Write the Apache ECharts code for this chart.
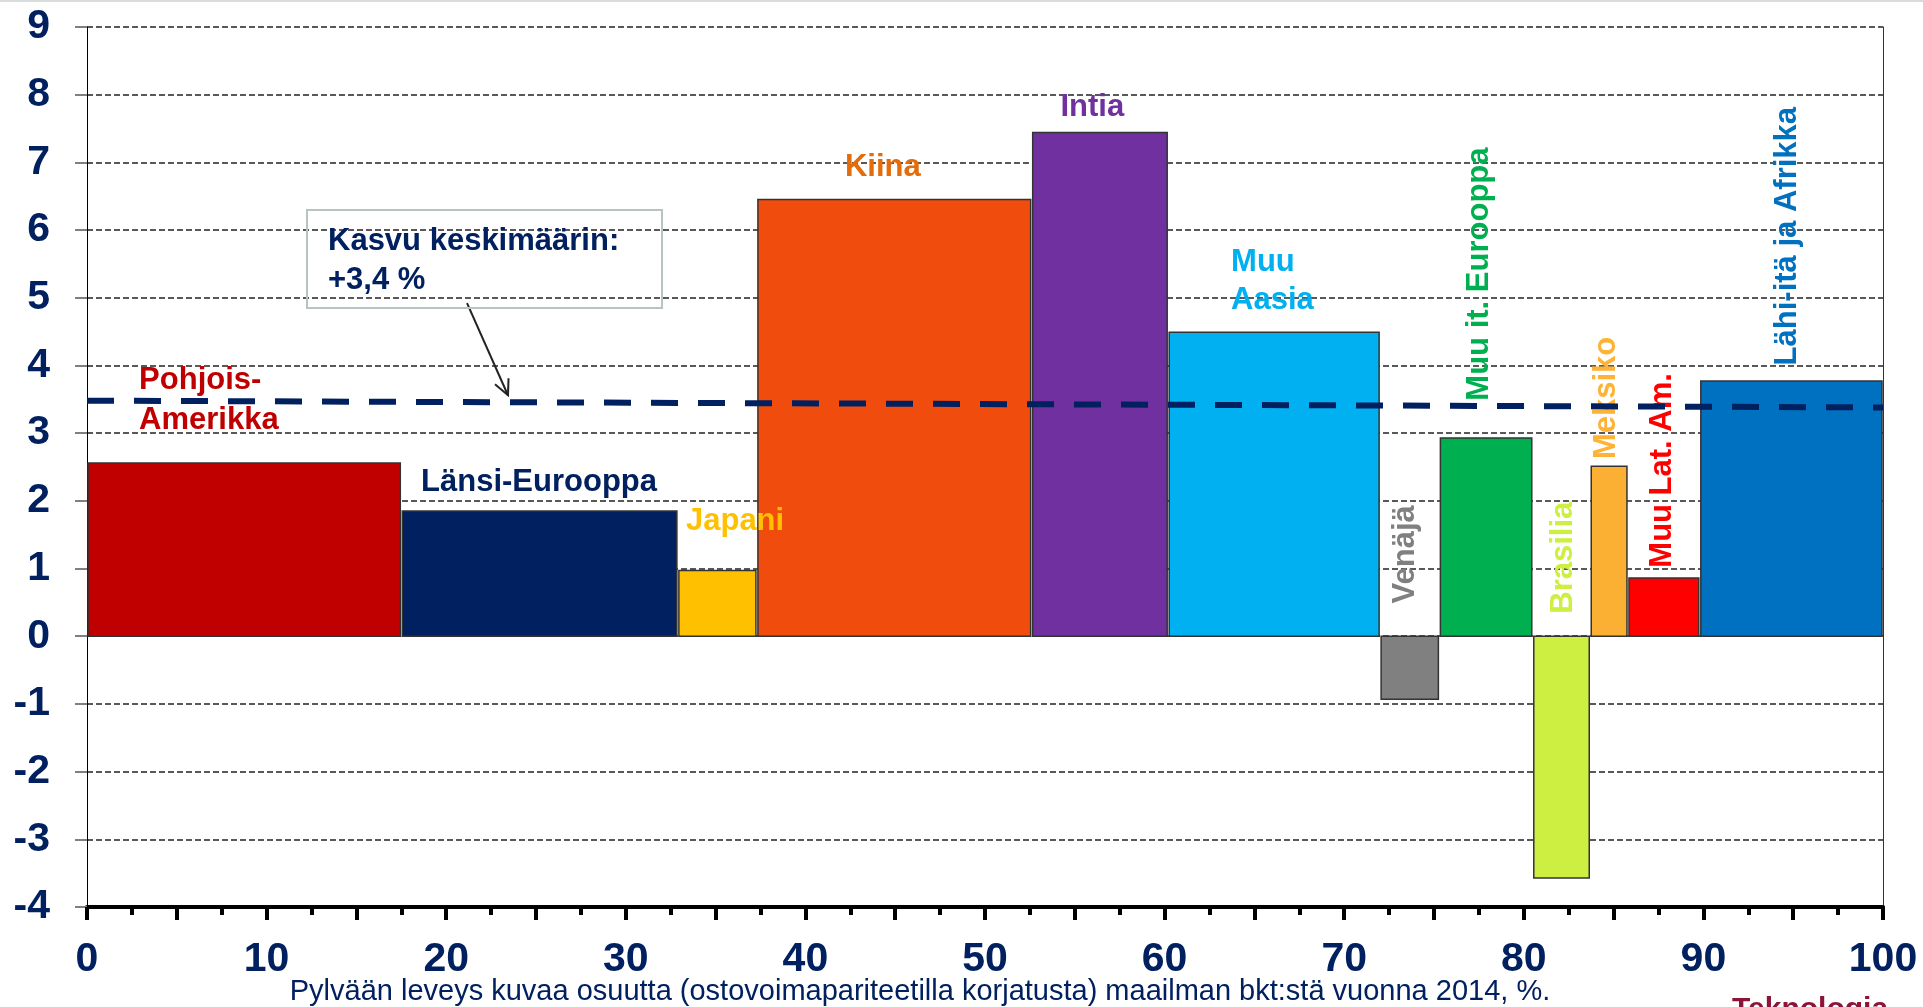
<!DOCTYPE html>
<html>
<head>
<meta charset="utf-8">
<script src="https://cdn.jsdelivr.net/npm/echarts@6/dist/echarts.min.js"></script>
<style>
html,body{margin:0;padding:0;background:#fff;}
#chart{width:1923px;height:1007px;}
</style>
</head>
<body>
<div id="chart"></div>
<script>
// ---- data ----
const regions = ['Pohjois-Amerikka','Länsi-Eurooppa','Japani','Kiina','Intia','Muu Aasia','Venäjä','Muu it. Eurooppa','Brasilia','Meksiko','Muu Lat. Am.','Lähi-itä ja Afrikka'];
// share of world GDP (PPP) 2014, % (bar widths)
const shares = [17.5, 15.4, 4.4, 15.3, 7.6, 11.8, 3.3, 5.2, 3.2, 2.1, 4.0, 10.2];
// growth, % (bar heights)
const growth = [2.56, 1.85, 0.97, 6.45, 7.44, 4.49, -0.93, 2.93, -3.57, 2.51, 0.86, 3.77];
// average growth line (as drawn)
const avgLine = [[0, 3.48], [100, 3.38]];
const labelText = ['Pohjois-\nAmerikka','Länsi-Eurooppa','Japani','Kiina','Intia','Muu\nAasia','Venäjä','Muu it. Eurooppa','Brasilia','Meksiko','Muu Lat. Am.','Lähi-itä ja Afrikka'];
const yTicks = [-4,-3,-2,-1,0,1,2,3,4,5,6,7,8,9];
const xTickLabels = [0,10,20,30,40,50,60,70,80,90,100];
const subtitle = 'Pylvään leveys kuvaa osuutta (ostovoimapariteetilla korjatusta) maailman bkt:stä vuonna 2014, %.';
const annotationText = ['Kasvu keskimäärin:', '+3,4 %'];

// ---- layout / style ----
const barColors = ['#C00000','#002060','#FFC000','#F04C0E','#7030A0','#00B0F0','#808080','#00B050','#CDEF41','#FBB034','#FF0000','#0070C0'];
const labelColors = ['#C00000','#002060','#FFC000','#E46C0A','#7030A0','#00B0F0','#808080','#00B050','#CDEF41','#FFB233','#FF0000','#0070C0'];
// label anchor in data coordinates, rotated flag
const labelPos = [[2.9,3.49],[18.6,2.27],[33.35,1.70],[42.2,6.93],[54.2,7.81],[63.7,5.24],[73.4,1.21],[77.55,5.35],[82.2,1.16],[84.6,3.52],[87.7,2.45],[94.7,5.91]];
const labelRot = [0,0,0,0,0,0,1,1,1,1,1,1];
const arrowFromTo = [[21.16, 4.92], [23.44, 3.56]];

const FONT = '"Liberation Sans", Arial, sans-serif';
const NAVY = '#002060';

const starts = [];
let acc = 0;
shares.forEach(w => { starts.push(acc); acc += w; });
const barData = regions.map((r, i) => [starts[i], starts[i] + shares[i], growth[i], i]);

const chart = echarts.init(document.getElementById('chart'), null, {renderer: 'canvas'});

const option = {
  animation: false,
  backgroundColor: '#ffffff',
  grid: {left: 87, right: 40, top: 27, bottom: 100, containLabel: false},
  xAxis: {
    type: 'value', min: 0, max: 100, interval: 5,
    axisLine: {show: true, onZero: false, lineStyle: {color: '#000', width: 4}},
    axisTick: {show: true, length: 13, lineStyle: {color: '#000', width: 4}},
    minorTick: {show: true, splitNumber: 2, length: 8, lineStyle: {color: '#000', width: 4}},
    splitLine: {show: false},
    axisLabel: {
      margin: 32, color: NAVY, fontSize: 41, fontWeight: 'bold', fontFamily: FONT,
      formatter: v => xTickLabels.indexOf(v) >= 0 ? String(v) : ''
    }
  },
  yAxis: [{
    type: 'value', min: -4, max: 9, interval: 1,
    axisLine: {show: true, onZero: false, lineStyle: {color: '#000', width: 1}},
    axisTick: {show: true, length: 12, lineStyle: {color: '#808080', width: 2}},
    splitLine: {show: true, lineStyle: {color: '#595959', width: 2, type: [6, 3]}},
    axisLabel: {
      margin: 37, color: NAVY, fontSize: 41, fontWeight: 'bold', fontFamily: FONT,
      formatter: v => yTicks.indexOf(v) >= 0 ? String(v) : ''
    }
  }, {
    type: 'value', min: -4, max: 9, interval: 1, position: 'right',
    axisLine: {show: true, onZero: false, lineStyle: {color: '#333', width: 1}},
    axisTick: {show: false}, axisLabel: {show: false}, splitLine: {show: false}
  }],
  series: [
    {
      type: 'custom', name: 'bars', z: 2,
      data: barData,
      encode: {x: [0, 1], y: 2},
      renderItem: function (params, api) {
        const s = api.value(0), e = api.value(1), v = api.value(2), i = api.value(3);
        const p0 = api.coord([s, 0]);
        const p1 = api.coord([e, v]);
        return {
          type: 'rect',
          shape: {x: p0[0] + 1, y: Math.min(p0[1], p1[1]), width: p1[0] - p0[0] - 2, height: Math.abs(p1[1] - p0[1])},
          style: {fill: barColors[i], stroke: '#333333', lineWidth: 1.5}
        };
      }
    },
    {
      type: 'custom', name: 'labels', z: 3,
      data: labelPos.map((p, i) => [p[0], p[1], i]),
      encode: {x: 0, y: 1},
      renderItem: function (params, api) {
        const i = api.value(2);
        const p = api.coord([api.value(0), api.value(1)]);
        const rot = labelRot[i] === 1;
        const lh = i === 0 ? 40 : 38;
        return {
          type: 'text',
          x: p[0], y: p[1],
          rotation: rot ? Math.PI / 2 : 0,
          style: {
            text: labelText[i], x: 0, y: 0,
            fill: labelColors[i],
            font: 'bold 31px ' + FONT,
            lineHeight: lh,
            align: rot ? 'center' : 'left', textAlign: rot ? 'center' : 'left',
            verticalAlign: 'middle', textVerticalAlign: 'middle'
          }
        };
      }
    },
    {
      type: 'line', name: 'avg', z: 4,
      data: avgLine, symbol: 'none',
      lineStyle: {color: NAVY, width: 6, type: [27, 20]}
    },
    {
      type: 'custom', name: 'arrow', z: 5,
      data: [[arrowFromTo[0][0], arrowFromTo[0][1], arrowFromTo[1][0], arrowFromTo[1][1]]],
      encode: {x: [0, 2], y: [1, 3]},
      renderItem: function (params, api) {
        const a = api.coord([api.value(0), api.value(1)]);
        const b = api.coord([api.value(2), api.value(3)]);
        const ang = Math.atan2(b[1] - a[1], b[0] - a[0]);
        const L = 17, spread = 0.45;
        const l = [b[0] - L * Math.cos(ang - spread), b[1] - L * Math.sin(ang - spread)];
        const r = [b[0] - L * Math.cos(ang + spread), b[1] - L * Math.sin(ang + spread)];
        return {
          type: 'group',
          children: [
            {type: 'line', shape: {x1: a[0], y1: a[1], x2: b[0], y2: b[1]}, style: {stroke: '#222', lineWidth: 2}},
            {type: 'polyline', shape: {points: [l, b, r]}, style: {stroke: '#222', lineWidth: 2, fill: null}}
          ]
        };
      }
    }
  ],
  graphic: [
    {type: 'rect', left: 0, top: 0, shape: {width: 1923, height: 2}, style: {fill: '#D8DDDB'}},
    {type: 'rect', x: 307, y: 210, shape: {width: 355, height: 98}, style: {fill: 'rgba(0,0,0,0)', stroke: '#B8C4C2', lineWidth: 2}, z: 10},
    {type: 'text', x: 328, y: 241, z: 10, style: {text: annotationText[0], fill: NAVY, font: 'bold 31px ' + FONT, align: 'left', textAlign: 'left', verticalAlign: 'middle', textVerticalAlign: 'middle'}},
    {type: 'text', x: 328, y: 280, z: 10, style: {text: annotationText[1], fill: NAVY, font: 'bold 31px ' + FONT, align: 'left', textAlign: 'left', verticalAlign: 'middle', textVerticalAlign: 'middle'}},
    {type: 'text', x: 920, y: 992, z: 10, style: {text: subtitle, fill: NAVY, font: '29px ' + FONT, align: 'center', textAlign: 'center', verticalAlign: 'middle', textVerticalAlign: 'middle'}},
    {type: 'text', x: 1732, y: 1010, z: 10, style: {text: 'Teknologia', fill: '#8B1538', font: 'bold 30px ' + FONT, align: 'left', textAlign: 'left', verticalAlign: 'middle', textVerticalAlign: 'middle'}}
  ]
};
chart.setOption(option);
</script>
</body>
</html>
